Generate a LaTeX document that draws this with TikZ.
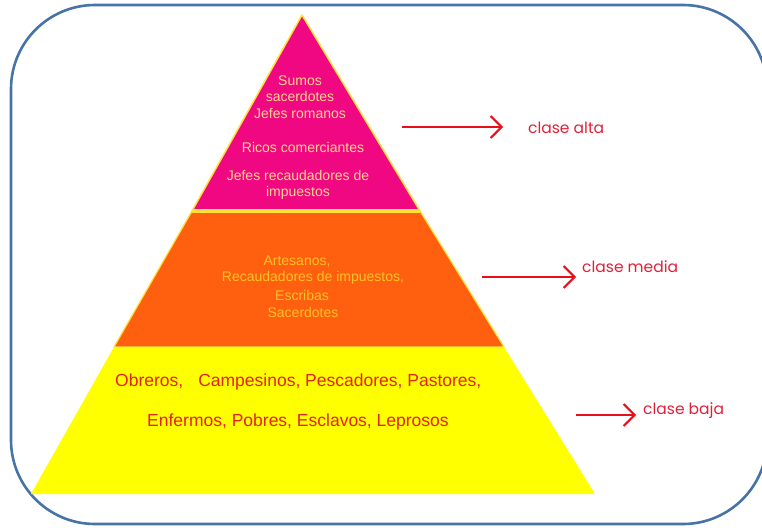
\documentclass[tikz,border=0pt]{standalone}
\usepackage{fontspec}
\setmainfont{Liberation Sans}
\newfontfamily\comicfont{Poppins}
\usetikzlibrary{arrows.meta}
\definecolor{framebl}{RGB}{70,116,166}
\definecolor{pinkt}{RGB}{240,8,130}
\definecolor{oranget}{RGB}{255,96,16}
\definecolor{yellowt}{RGB}{255,255,0}
\definecolor{borderyl}{RGB}{255,225,60}
\definecolor{pinktext}{RGB}{255,214,140}
\definecolor{orangetext}{RGB}{255,192,40}
\definecolor{yellowtext}{RGB}{228,36,18}
\definecolor{arrowred}{RGB}{232,16,24}
\definecolor{labelred}{RGB}{224,32,58}
\tikzset{
  pinklbl/.style={text=pinktext, font=\fontsize{14}{16.5}\selectfont, align=center, inner sep=0pt},
  orangelbl/.style={text=orangetext, font=\fontsize{14}{16.5}\selectfont, inner sep=0pt},
  yellowlbl/.style={text=yellowtext, font=\fontsize{17.5}{20}\selectfont, inner sep=0pt},
  classlbl/.style={text=labelred, font=\comicfont\fontsize{15.5}{18}\selectfont, inner sep=0pt, anchor=west},
  classarrow/.style={draw=arrowred, line width=2pt, -{Straight Barb[length=11pt,width=22pt,line width=2pt]}}
}
\begin{document}
\begin{tikzpicture}[x=1pt,y=-1pt]
\useasboundingbox (0,0) rectangle (762,527);
\clip (0,0) rectangle (762,527);
% frame
\draw[framebl, line width=2.6pt, rounded corners=84pt] (11,5) rectangle (767,524);
% pyramid coordinates
\coordinate (apex) at (302,15);
\coordinate (pl) at (192,211);
\coordinate (pr) at (420,211);
\coordinate (ol) at (114,347);
\coordinate (or) at (504,347);
\coordinate (yl) at (31,494);
\coordinate (yr) at (595,494);
% tiers
\filldraw[fill=oranget, draw=borderyl, line width=1.2pt] (pl) -- (pr) -- (or) -- (ol) -- cycle;
\fill[yellowt] (ol) -- (or) -- (yr) -- (yl) -- cycle;
\filldraw[fill=pinkt, draw=borderyl, line width=1.5pt, line join=round] (apex) -- (pr) -- (pl) -- cycle;
\draw[borderyl, line width=3.5pt] (pl) -- (pr);
% pink texts
\node[pinklbl] (p1) at (300,97) {Sumos\\sacerdotes\\Jefes romanos};
\node[pinklbl] (p2) at (303,147) {Ricos comerciantes};
\node[pinklbl] (p3) at (298,185) {Jefes recaudadores de\\impuestos};
% orange texts
\node[orangelbl] (o1) at (297,262) {Artesanos,};
\node[orangelbl] (o2) at (313,278) {Recaudadores de impuestos,};
\node[orangelbl] (o3) at (302,295) {Escribas};
\node[orangelbl] (o4) at (303,312) {Sacerdotes};
% yellow texts
\node[yellowlbl, anchor=west] (y1) at (115,382) {Obreros,\hspace{15pt}Campesinos, Pescadores, Pastores,};
\node[yellowlbl, anchor=west] (y2) at (147,422) {Enfermos, Pobres, Esclavos, Leprosos};
% arrows and class labels
\coordinate (a1s) at (402,127);
\coordinate (a1e) at (503,127);
\coordinate (a2s) at (482,277);
\coordinate (a2e) at (576,277);
\coordinate (a3s) at (576,415);
\coordinate (a3e) at (636,415);
\draw[classarrow] (a1s) -- (a1e);
\draw[classarrow] (a2s) -- (a2e);
\draw[classarrow] (a3s) -- (a3e);
\node[classlbl] (c1) at (528,128) {clase alta};
\node[classlbl] (c2) at (582,267) {clase media};
\node[classlbl] (c3) at (643,411) {clase baja};
\end{tikzpicture}
\end{document}
